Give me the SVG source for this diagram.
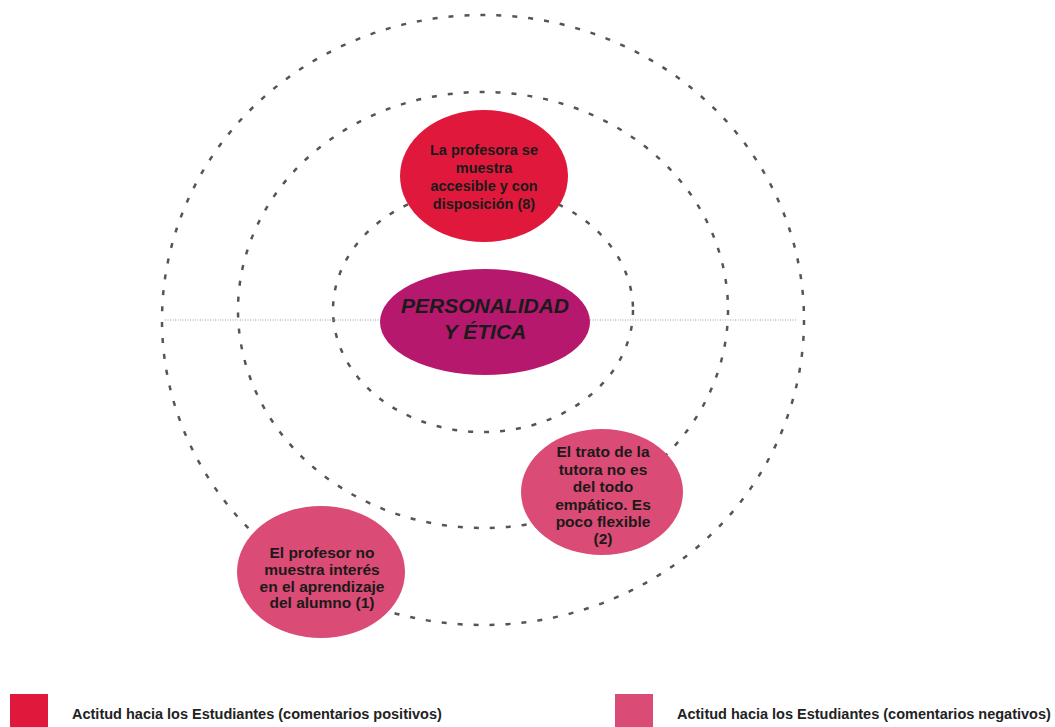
<svg xmlns="http://www.w3.org/2000/svg" width="1055" height="727" viewBox="0 0 1055 727">
<style>
.ring{fill:none;stroke:#555;stroke-width:2.5;stroke-dasharray:5 11}
.axis{stroke:#999;stroke-width:1;stroke-dasharray:1 1.5}
.t{font-family:"Liberation Sans",Arial,sans-serif;font-weight:bold;font-size:14.5px;fill:#1a1a1a;text-anchor:middle}
.b{font-size:15.5px}
.c{font-family:"Liberation Sans",Arial,sans-serif;font-weight:bold;font-style:italic;font-size:21px;fill:#1a1a1a;text-anchor:middle}
.lg{font-family:"Liberation Sans",Arial,sans-serif;font-weight:bold;font-size:14.5px;fill:#222}
.pos{fill:#E0193C}
.neg{fill:#DA4B75}
</style>
<rect width="1055" height="727" fill="#fff"/>
<g id="rings">
<ellipse class="ring" cx="483" cy="320" rx="321" ry="305"/>
<ellipse class="ring" cx="483" cy="310" rx="245" ry="218"/>
<ellipse class="ring" cx="483" cy="310" rx="150" ry="122"/>
</g>
<g id="connectors">
<line class="axis" x1="165" y1="320" x2="797" y2="320"/>
</g>
<g id="node-top">
<ellipse class="pos" cx="484" cy="176" rx="84" ry="66"/>
<text class="t" x="484" y="155">La profesora se</text>
<text class="t" x="484" y="173">muestra</text>
<text class="t" x="484" y="191">accesible y con</text>
<text class="t" x="484" y="209">disposición (8)</text>
</g>
<g id="node-center">
<ellipse cx="485" cy="322" rx="105" ry="53" fill="#B6186E"/>
<text class="c" x="485" y="313">PERSONALIDAD</text>
<text class="c" x="485" y="339">Y ÉTICA</text>
</g>
<g id="node-right">
<ellipse class="neg" cx="602" cy="492" rx="81" ry="63"/>
<text class="t b" x="603" y="457">El trato de la</text>
<text class="t b" x="603" y="475">tutora no es</text>
<text class="t b" x="603" y="492">del todo</text>
<text class="t b" x="603" y="510">empático. Es</text>
<text class="t b" x="603" y="527">poco flexible</text>
<text class="t b" x="603" y="544">(2)</text>
</g>
<g id="node-left">
<ellipse class="neg" cx="321" cy="572" rx="84" ry="66"/>
<text class="t b" x="322" y="558">El profesor no</text>
<text class="t b" x="322" y="575">muestra interés</text>
<text class="t b" x="322" y="592">en el aprendizaje</text>
<text class="t b" x="322" y="608">del alumno (1)</text>
</g>
<g id="legend-pos">
<rect class="pos" x="10" y="694" width="38" height="33"/>
<text class="lg" x="72" y="719">Actitud hacia los Estudiantes (comentarios positivos)</text>
</g>
<g id="legend-neg">
<rect class="neg" x="615" y="694" width="38" height="33"/>
<text class="lg" x="677" y="719">Actitud hacia los Estudiantes (comentarios negativos)</text>
</g>
</svg>
